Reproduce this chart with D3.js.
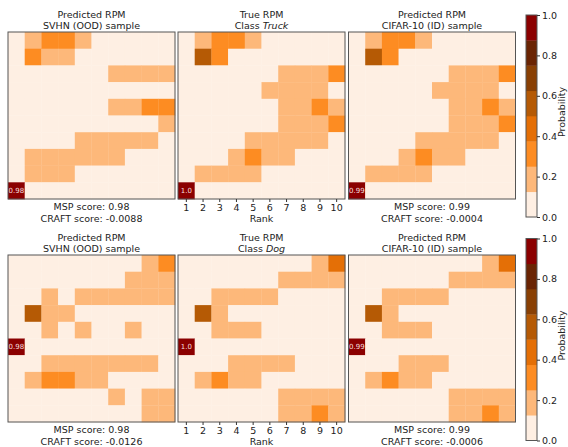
<!DOCTYPE html>
<html>
<head>
<meta charset="utf-8">
<script src="https://cdn.jsdelivr.net/npm/d3@7"></script>
<style>
  body { margin: 0; background: #fff; }
  text { font-family: "DejaVu Sans", sans-serif; fill: #222; }
</style>
</head>
<body>
<div id="chart"></div>
<script>
// Chart size
var svgWidth = 568;
var svgHeight = 447;

// rank labels along the x axis
var ranks = ["1", "2", "3", "4", "5", "6", "7", "8", "9", "10"];

// probability matrices, rows top to bottom
var svhnTruck = [
  [0, 0.2, 0.3, 0.3, 0.2, 0, 0, 0, 0, 0],
  [0, 0.3, 0.2, 0.2, 0, 0, 0, 0, 0, 0],
  [0, 0, 0, 0, 0, 0, 0.2, 0.2, 0.2, 0.2],
  [0, 0, 0, 0, 0, 0, 0, 0, 0, 0],
  [0, 0, 0, 0, 0, 0, 0.2, 0.2, 0.3, 0.3],
  [0, 0, 0, 0, 0, 0, 0, 0, 0, 0.2],
  [0, 0, 0, 0, 0.2, 0.2, 0.2, 0.2, 0.2, 0],
  [0, 0.2, 0.2, 0.2, 0.2, 0.2, 0.2, 0, 0, 0],
  [0, 0.2, 0.2, 0.2, 0, 0, 0, 0, 0, 0],
  [0.98, 0, 0, 0, 0, 0, 0, 0, 0, 0],
];
var trueTruck = [
  [0, 0.2, 0.3, 0.3, 0.2, 0, 0, 0, 0, 0],
  [0, 0.55, 0.3, 0, 0, 0, 0, 0, 0, 0],
  [0, 0, 0, 0, 0, 0, 0.2, 0.2, 0.2, 0.3],
  [0, 0, 0, 0, 0, 0.2, 0.2, 0.2, 0.2, 0],
  [0, 0, 0, 0, 0, 0, 0.2, 0.2, 0.3, 0.2],
  [0, 0, 0, 0, 0, 0, 0.2, 0.2, 0.2, 0.3],
  [0, 0, 0, 0, 0.2, 0.2, 0.2, 0.2, 0.2, 0],
  [0, 0, 0, 0.2, 0.3, 0.2, 0.2, 0, 0, 0],
  [0, 0.2, 0.2, 0.2, 0.2, 0, 0, 0, 0, 0],
  [1.0, 0, 0, 0, 0, 0, 0, 0, 0, 0],
];
var cifarTruck = [
  [0, 0.2, 0.3, 0.3, 0.2, 0, 0, 0, 0, 0],
  [0, 0.55, 0.3, 0, 0, 0, 0, 0, 0, 0],
  [0, 0, 0, 0, 0, 0, 0.2, 0.2, 0.2, 0.3],
  [0, 0, 0, 0, 0, 0.2, 0.2, 0.2, 0.2, 0],
  [0, 0, 0, 0, 0, 0, 0.2, 0.2, 0.3, 0.2],
  [0, 0, 0, 0, 0, 0, 0.2, 0.2, 0.2, 0.3],
  [0, 0, 0, 0, 0.2, 0.2, 0.2, 0.2, 0.2, 0],
  [0, 0, 0, 0.2, 0.3, 0.2, 0.2, 0, 0, 0],
  [0, 0.2, 0.2, 0.2, 0.2, 0, 0, 0, 0, 0],
  [0.99, 0, 0, 0, 0, 0, 0, 0, 0, 0],
];
var svhnDog = [
  [0, 0, 0, 0, 0, 0, 0, 0, 0.2, 0.3],
  [0, 0, 0, 0, 0, 0, 0, 0.2, 0.2, 0.2],
  [0, 0, 0.2, 0, 0.2, 0.2, 0.2, 0.2, 0.2, 0.2],
  [0, 0.55, 0.2, 0.2, 0, 0, 0, 0, 0, 0],
  [0, 0, 0.2, 0, 0.2, 0, 0, 0.2, 0, 0],
  [0.98, 0, 0, 0, 0, 0, 0, 0, 0, 0],
  [0, 0, 0.2, 0.2, 0.2, 0.2, 0.2, 0.2, 0.2, 0],
  [0, 0.2, 0.3, 0.3, 0.2, 0.2, 0, 0, 0, 0],
  [0, 0, 0, 0, 0, 0, 0.2, 0, 0.2, 0.2],
  [0, 0, 0, 0, 0, 0, 0, 0, 0.2, 0.2],
];
var trueDog = [
  [0, 0, 0, 0, 0, 0, 0, 0, 0.2, 0.45],
  [0, 0, 0, 0, 0, 0, 0.2, 0.2, 0.2, 0.2],
  [0, 0, 0.2, 0.2, 0.2, 0.2, 0, 0, 0, 0],
  [0, 0.55, 0.2, 0, 0, 0, 0, 0, 0, 0],
  [0, 0, 0.2, 0.2, 0.2, 0, 0, 0, 0, 0],
  [1.0, 0, 0, 0, 0, 0, 0, 0, 0, 0],
  [0, 0, 0, 0.2, 0.2, 0.2, 0.2, 0, 0, 0],
  [0, 0.2, 0.3, 0.2, 0.2, 0, 0, 0, 0, 0],
  [0, 0, 0, 0, 0, 0, 0.2, 0.2, 0.2, 0.2],
  [0, 0, 0, 0, 0, 0, 0.2, 0.2, 0.3, 0.2],
];
var cifarDog = [
  [0, 0, 0, 0, 0, 0, 0, 0, 0.2, 0.45],
  [0, 0, 0, 0, 0, 0, 0.2, 0.2, 0.2, 0.2],
  [0, 0, 0.2, 0.2, 0.2, 0.2, 0, 0, 0, 0],
  [0, 0.55, 0.2, 0, 0, 0, 0, 0, 0, 0],
  [0, 0, 0.2, 0.2, 0.2, 0, 0, 0, 0, 0],
  [0.99, 0, 0, 0, 0, 0, 0, 0, 0, 0],
  [0, 0, 0, 0.2, 0.2, 0.2, 0, 0, 0, 0],
  [0, 0.2, 0.3, 0.2, 0.2, 0, 0, 0, 0, 0],
  [0, 0, 0, 0, 0, 0, 0.2, 0.2, 0.2, 0.2],
  [0, 0, 0, 0, 0, 0, 0.2, 0.2, 0.3, 0.2],
];

// panel texts
var titleTop = ["Predicted RPM", "True RPM", "Predicted RPM"];
var titleSub = ["SVHN (OOD) sample", "Class ", "CIFAR-10 (ID) sample"];
var classNames = ["Truck", "Dog"];
var labelCells = ["0.98", "1.0", "0.99", "0.98", "1.0", "0.99"];
var mspScores = ["0.98", "", "0.99", "0.98", "", "0.99"];
var craftScores = ["-0.0088", "", "-0.0004", "-0.0126", "", "-0.0006"];

// colour bar levels
var levelEdges = [0.125, 0.25, 0.375, 0.5, 0.625, 0.75, 0.875];
var levelColors = ["#feefe3", "#fdb87a", "#fd8c22", "#e46f06", "#b55a05", "#894004", "#6a2403", "#8b0000"];
var barTicks = [0, 0.2, 0.4, 0.6, 0.8, 1.0];

var matrices = [svhnTruck, trueTruck, cifarTruck, svhnDog, trueDog, cifarDog];

var colX = [8, 178, 348.5];
var rowY = [32, 255];
var size = 167;

var color = d3.scaleThreshold().domain(levelEdges).range(levelColors);

var svg = d3
  .select("#chart")
  .append("svg")
  .attr("width", svgWidth)
  .attr("height", svgHeight);

var xBand = d3.scaleBand().domain(d3.range(10)).range([0, size]);
var yBand = d3.scaleBand().domain(d3.range(10)).range([0, size]);

matrices.forEach(function (m, i) {
  var col = i % 3;
  var row = Math.floor(i / 3);
  var g = svg
    .append("g")
    .attr("transform", `translate(${colX[col]}, ${rowY[row]})`);

  var cells = [];
  m.forEach(function (r, ri) {
    r.forEach(function (v, ci) {
      cells.push({ r: ri, c: ci, v: v });
    });
  });

  g.selectAll("rect.cell")
    .data(cells)
    .enter()
    .append("rect")
    .attr("class", "cell")
    .attr("x", (d) => xBand(d.c))
    .attr("y", (d) => yBand(d.r))
    .attr("width", xBand.bandwidth() + 0.3)
    .attr("height", yBand.bandwidth() + 0.3)
    .attr("fill", (d) => color(d.v));

  // label on the highest cell
  var top = cells.reduce((a, b) => (b.v > a.v ? b : a));
  g.append("text")
    .attr("x", xBand(top.c) + xBand.bandwidth() / 2)
    .attr("y", yBand(top.r) + yBand.bandwidth() / 2 + 2.5)
    .attr("text-anchor", "middle")
    .style("font-size", "7px")
    .style("fill", "#f4dede")
    .text(labelCells[i]);

  // frame
  g.append("rect")
    .attr("width", size)
    .attr("height", size)
    .attr("fill", "none")
    .attr("stroke", "#555")
    .attr("stroke-width", 1);

  // titles
  g.append("text")
    .attr("x", size / 2)
    .attr("y", -14)
    .attr("text-anchor", "middle")
    .style("font-size", "9.5px")
    .text(titleTop[col]);

  var sub = g
    .append("text")
    .attr("x", size / 2)
    .attr("y", -3.5)
    .attr("text-anchor", "middle")
    .style("font-size", "9.5px")
    .text(titleSub[col]);
  if (col === 1) {
    sub.append("tspan").style("font-style", "italic").text(classNames[row]);
  }

  if (col === 1) {
    var axis = d3
      .axisBottom(xBand)
      .tickSize(3)
      .tickFormat((d) => ranks[d]);
    var ax = g
      .append("g")
      .attr("transform", `translate(0, ${size})`)
      .call(axis);
    ax.select(".domain").remove();
    ax.selectAll("line").attr("stroke", "#333");
    ax.selectAll("text")
      .style("font-size", "9.5px")
      .attr("dy", "0.9em")
      .attr("y", 3.5);
    g.append("text")
      .attr("x", size / 2)
      .attr("y", size + 22.5)
      .attr("text-anchor", "middle")
      .style("font-size", "9.5px")
      .text("Rank");
  } else {
    g.append("text")
      .attr("x", size / 2)
      .attr("y", size + 10.5)
      .attr("text-anchor", "middle")
      .style("font-size", "9.5px")
      .text("MSP score: " + mspScores[i]);
    g.append("text")
      .attr("x", size / 2)
      .attr("y", size + 23)
      .attr("text-anchor", "middle")
      .style("font-size", "9.5px")
      .text("CRAFT score: " + craftScores[i]);
  }
});

// colour bars
var barTop = [15, 238.5];
var barHeight = 202;
var barX = 526;
var barW = 11;

barTop.forEach(function (t) {
  var yScale = d3.scaleLinear().domain([0, 1]).range([t + barHeight, t]);
  var g = svg.append("g");
  var bins = d3.range(8).map((k) => ({ lo: k / 8, hi: (k + 1) / 8, c: levelColors[k] }));
  g.selectAll("rect")
    .data(bins)
    .enter()
    .append("rect")
    .attr("x", barX)
    .attr("y", (d) => yScale(d.hi))
    .attr("width", barW)
    .attr("height", (d) => yScale(d.lo) - yScale(d.hi) + 0.3)
    .attr("fill", (d) => d.c);
  g.append("rect")
    .attr("x", barX)
    .attr("y", t)
    .attr("width", barW)
    .attr("height", barHeight)
    .attr("fill", "none")
    .attr("stroke", "#555");

  var ax = g
    .append("g")
    .attr("transform", `translate(${barX + barW}, 0)`)
    .call(d3.axisRight(yScale).tickValues(barTicks).tickSize(3).tickFormat(d3.format(".1f")));
  ax.select(".domain").remove();
  ax.selectAll("line").attr("stroke", "#333");
  ax.selectAll("text").style("font-size", "9.5px").attr("x", 5);

  g.append("text")
    .attr("transform", `translate(565, ${t + barHeight / 2 - 4}) rotate(-90)`)
    .attr("text-anchor", "middle")
    .style("font-size", "9.5px")
    .text("Probability");
});
</script>
</body>
</html>
